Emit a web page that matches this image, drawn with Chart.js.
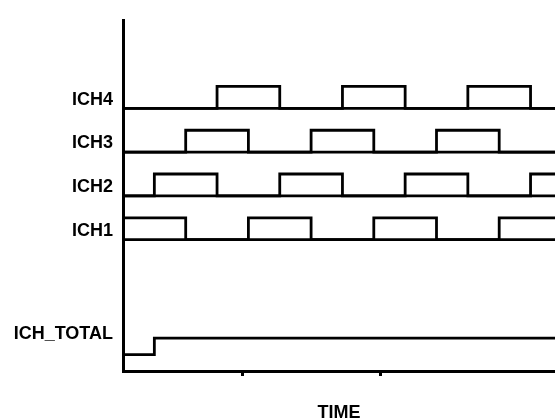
<!DOCTYPE html>
<html>
<head>
<meta charset="utf-8">
<script src="https://cdn.jsdelivr.net/npm/chart.js@4/dist/chart.umd.min.js"></script>
<style>
  html, body { margin: 0; padding: 0; background: #fff; }
  #wrap { width: 555px; height: 420px; }
</style>
</head>
<body>
<div id="wrap"><canvas id="timing" width="555" height="420"></canvas></div>
<script>
// --- Data: switching times and on/off state of each channel ---
const T_END = 13.78;

const ich1Times = [0, 2, 4, 6, 8, 10, 12, T_END];
const ich1States = [1, 0, 1, 0, 1, 0, 1, 1];

const ich2Times = [0, 1, 3, 5, 7, 9, 11, 13, T_END];
const ich2States = [0, 1, 0, 1, 0, 1, 0, 1, 1];

const ich3Times = [0, 2, 4, 6, 8, 10, 12, T_END];
const ich3States = [0, 1, 0, 1, 0, 1, 0, 0];

const ich4Times = [0, 3, 5, 7, 9, 11, 13, T_END];
const ich4States = [0, 1, 0, 1, 0, 1, 0, 0];

const totalTimes = [0, 1, T_END];
const totalValues = [0.75, 1.5, 1.5];

// lane baseline for each channel on the y scale
const laneNames = ["ICH1", "ICH2", "ICH3", "ICH4"];
const laneBase = [6, 8, 10, 12];

// y tick labels
const yTickValues = [1.7, 6.4, 8.4, 10.4, 12.4];
const yTickLabels = ["ICH_TOTAL", "ICH1", "ICH2", "ICH3", "ICH4"];
const xTickValues = [3.8, 8.2];

const channels = [
  [ich1Times, ich1States],
  [ich2Times, ich2States],
  [ich3Times, ich3States],
  [ich4Times, ich4States],
];

function lineSet(label, points) {
  return {
    label,
    data: points,
    stepped: true,
    borderColor: "#000",
    borderWidth: 2.8,
    borderJoinStyle: "miter",
    borderCapStyle: "butt",
    pointRadius: 0,
    fill: false,
  };
}

const datasets = [];
channels.forEach(([times, states], i) => {
  // pulse train
  datasets.push(lineSet(laneNames[i], times.map((t, k) => ({ x: t, y: laneBase[i] + states[k] }))));
  // continuous baseline under the pulses
  datasets.push(lineSet(laneNames[i] + " base", [{ x: 0, y: laneBase[i] }, { x: T_END, y: laneBase[i] }]));
});
datasets.push(lineSet("ICH_TOTAL", totalTimes.map((t, k) => ({ x: t, y: totalValues[k] }))));

const labelFont = { family: "'Liberation Sans', Arial, sans-serif", size: 18, weight: "bold" };

new Chart(document.getElementById("timing"), {
  type: "line",
  data: { datasets },
  options: {
    responsive: false,
    animation: false,
    events: [],
    layout: { padding: { top: 15, right: 0, bottom: 0, left: 0 } },
    plugins: { legend: { display: false }, tooltip: { enabled: false } },
    scales: {
      x: {
        type: "linear",
        min: 0,
        max: T_END,
        afterBuildTicks: (s) => { s.ticks = xTickValues.map((v) => ({ value: v })); },
        afterFit: (s) => { s.height = 49; },
        ticks: { display: false },
        grid: { drawOnChartArea: false, drawTicks: true, tickLength: 5, lineWidth: 3, color: "#000" },
        border: { display: true, width: 3, color: "#000" },
        title: {
          display: true,
          text: "TIME",
          color: "#000",
          font: { ...labelFont, lineHeight: 0.8 },
          padding: { top: 0, bottom: 0 },
        },
      },
      y: {
        type: "linear",
        min: 0,
        max: 16,
        afterBuildTicks: (s) => { s.ticks = yTickValues.map((v) => ({ value: v })); },
        afterFit: (s) => { s.width = 123; },
        ticks: {
          padding: 10,
          color: "#000",
          font: labelFont,
          callback: (v, i) => yTickLabels[i],
        },
        grid: { display: false, drawTicks: false },
        border: { display: true, width: 3, color: "#000" },
      },
    },
  },
});
</script>
</body>
</html>
